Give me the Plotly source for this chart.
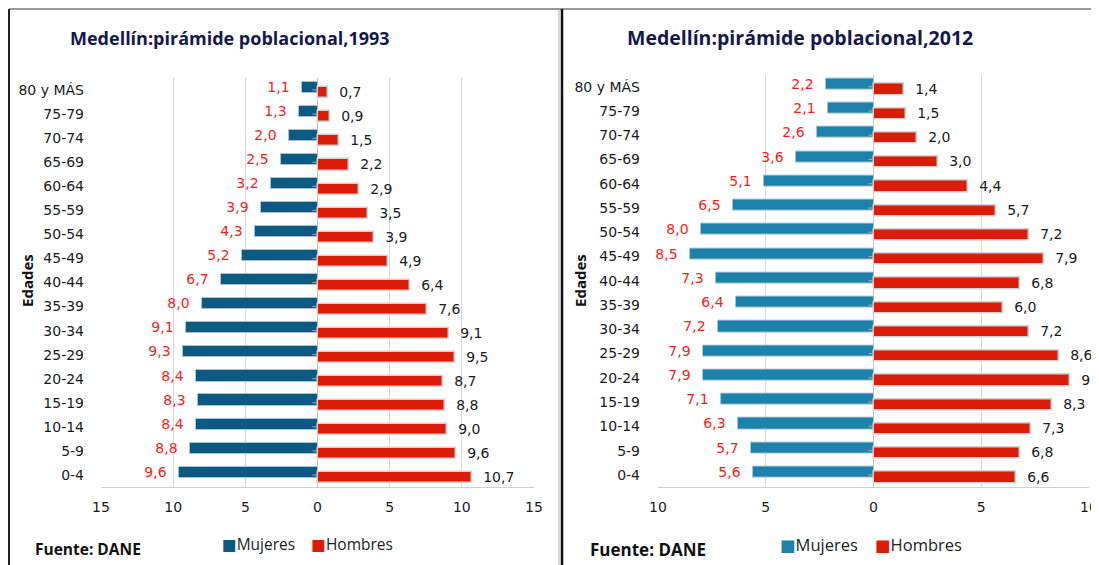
import plotly.graph_objects as go

# ---------------- data ----------------
age_groups = ["0-4", "5-9", "10-14", "15-19", "20-24", "25-29", "30-34", "35-39",
              "40-44", "45-49", "50-54", "55-59", "60-64", "65-69", "70-74", "75-79", "80 y MÁS"]
mujeres_1993 = [9.6, 8.8, 8.4, 8.3, 8.4, 9.3, 9.1, 8.0, 6.7, 5.2, 4.3, 3.9, 3.2, 2.5, 2.0, 1.3, 1.1]
hombres_1993 = [10.7, 9.6, 9.0, 8.8, 8.7, 9.5, 9.1, 7.6, 6.4, 4.9, 3.9, 3.5, 2.9, 2.2, 1.5, 0.9, 0.7]
mujeres_2012 = [5.6, 5.7, 6.3, 7.1, 7.9, 7.9, 7.2, 6.4, 7.3, 8.5, 8.0, 6.5, 5.1, 3.6, 2.6, 2.1, 2.2]
hombres_2012 = [6.6, 6.8, 7.3, 8.3, 9.1, 8.6, 7.2, 6.0, 6.8, 7.9, 7.2, 5.7, 4.4, 3.0, 2.0, 1.5, 1.4]
titles = ["Medellín:pirámide poblacional,1993", "Medellín:pirámide poblacional,2012"]
x_ticks_1993 = [-15, -10, -5, 0, 5, 10, 15]
x_ticks_2012 = [-10, -5, 0, 5, 10]
series_names = ["Mujeres", "Hombres"]

# ---------------- layout constants ----------------
OFF = 8                      # page body margin of the html page
W, H = 1099 - OFF, 565 - OFF
NB = "\u00a0"
FONT_NUM = "DejaVu Sans"
FONT_TXT = "Open Sans"
BLUE_1993 = "#0c5a84"
BLUE_2012 = "#1d82ab"
RED = "#dc1c06"
BAR_W = 0.46


def px_x(p):
    return (p - OFF) / W


def px_y(p):
    return 1 - (p - OFF) / H


def fmt(v):
    return f"{v:.1f}".replace(".", ",")


fig = go.Figure()

panels = [
    dict(mu=mujeres_1993, ho=hombres_1993, xa="x", ya="y", ticks=x_ticks_1993,
         dom_x=(101, 534), dom_y=(78, 487), blue=BLUE_1993,
         title_x=68, title_size=18, edades_x=27, fuente_x=33, fuente_size=15.5,
         legend_x=307, legend_size=15.5, ystand=16),
    dict(mu=mujeres_2012, ho=hombres_2012, xa="x2", ya="y2", ticks=x_ticks_2012,
         dom_x=(658, 1089), dom_y=(74.6, 487), blue=BLUE_2012,
         title_x=625, title_size=19.5, edades_x=580, fuente_x=588, fuente_size=17,
         legend_x=871, legend_size=16.5, ystand=17),
]

idx = list(range(len(age_groups)))

for i, p in enumerate(panels):
    fig.add_trace(go.Bar(
        y=idx, x=[-v for v in p["mu"]], orientation="h", name=series_names[0],
        width=BAR_W, offset=-0.115,
        marker=dict(color=p["blue"], line=dict(color="#a9c3d3", width=1)),
        text=[fmt(v) + NB * 2 for v in p["mu"]], textposition="outside",
        constraintext="none", cliponaxis=False,
        textfont=dict(family=FONT_NUM, size=14, color="#ff1a1a"),
        xaxis=p["xa"], yaxis=p["ya"], showlegend=False, hoverinfo="skip",
    ))
    fig.add_trace(go.Bar(
        y=idx, x=p["ho"], orientation="h", name=series_names[1],
        width=BAR_W, offset=-0.345,
        marker=dict(color=RED, line=dict(color="#d2d2d2", width=1.5)),
        text=[NB * 2 + fmt(v) for v in p["ho"]], textposition="outside",
        constraintext="none", cliponaxis=False,
        textfont=dict(family=FONT_NUM, size=14, color="#1a1a1a"),
        xaxis=p["xa"], yaxis=p["ya"], showlegend=False, hoverinfo="skip",
    ))

    rng = max(p["ticks"])
    xkey = "xaxis" if i == 0 else "xaxis2"
    ykey = "yaxis" if i == 0 else "yaxis2"
    fig.layout[xkey] = dict(
        domain=[px_x(p["dom_x"][0]), px_x(p["dom_x"][1])],
        range=[-rng, rng], tickvals=p["ticks"], ticktext=[str(abs(t)) for t in p["ticks"]],
        showgrid=True, gridcolor="#d9d9d9", gridwidth=1,
        zeroline=True, zerolinecolor="#c8c8c8", zerolinewidth=1,
        showline=True, linecolor="#d0d0d0", linewidth=1,
        ticks="", ticklabelstandoff=7, automargin=False,
        tickfont=dict(family=FONT_NUM, size=14, color="#1a1a1a"),
        anchor="y" if i == 0 else "y2", fixedrange=True,
    )
    fig.layout[ykey] = dict(
        domain=[px_y(p["dom_y"][1]), px_y(p["dom_y"][0])],
        range=[-0.5, len(age_groups) - 0.5], tickvals=idx, ticktext=age_groups,
        showgrid=False, zeroline=False, showline=False, ticks="",
        ticklabelstandoff=p["ystand"], automargin=False,
        tickfont=dict(family=FONT_NUM, size=14, color="#1a1a1a"),
        anchor="x" if i == 0 else "x2", fixedrange=True,
    )

    # small category tick marks on the central axis
    ppu = (p["dom_x"][1] - p["dom_x"][0]) / (2 * rng)
    for k in idx:
        fig.add_shape(type="line", xref=p["xa"], yref=p["ya"],
                      x0=-5 / ppu, x1=0, y0=k, y1=k,
                      line=dict(color="#b0b0b0", width=1), layer="above")

    # titles / annotations
    fig.add_annotation(text=f"<b>{titles[i]}</b>", xref="paper", yref="paper",
                       x=px_x(p["title_x"]), y=px_y(38),
                       xanchor="left", yanchor="middle", showarrow=False,
                       font=dict(family=FONT_TXT, size=p["title_size"], color="#15184d"))
    fig.add_annotation(text="<b>Edades</b>", xref="paper", yref="paper",
                       x=px_x(p["edades_x"]), y=px_y(281), textangle=-90,
                       xanchor="center", yanchor="middle", showarrow=False,
                       font=dict(family=FONT_TXT, size=15, color="#111111"))
    fig.add_annotation(text="<b>Fuente: DANE</b>", xref="paper", yref="paper",
                       x=px_x(p["fuente_x"]), y=px_y(549),
                       xanchor="left", yanchor="middle", showarrow=False,
                       font=dict(family=FONT_TXT, size=p["fuente_size"], color="#111111"))
    # legend
    legend_text = (f"<span style='font-family:DejaVu Sans;color:{p['blue']}'>■</span>{series_names[0]}"
                   f"{NB * 4}<span style='font-family:DejaVu Sans;color:{RED}'>■</span>{series_names[1]}")
    fig.add_annotation(text=legend_text, xref="paper", yref="paper",
                       x=px_x(p["legend_x"]), y=px_y(544),
                       xanchor="center", yanchor="middle", showarrow=False,
                       font=dict(family=FONT_TXT, size=p["legend_size"], color="#222222"))

# frame lines
fig.add_shape(type="line", xref="paper", yref="paper", x0=px_x(9), x1=1, y0=px_y(9), y1=px_y(9),
              line=dict(color="#9a9a9a", width=2))
fig.add_shape(type="line", xref="paper", yref="paper", x0=px_x(9), x1=px_x(9), y0=0, y1=px_y(9),
              line=dict(color="#222222", width=2))
fig.add_shape(type="line", xref="paper", yref="paper", x0=px_x(559), x1=px_x(559), y0=0, y1=px_y(9),
              line=dict(color="#b0b0b0", width=1))
fig.add_shape(type="line", xref="paper", yref="paper", x0=px_x(562), x1=px_x(562), y0=0, y1=px_y(9),
              line=dict(color="#111111", width=2.5))

fig.update_layout(
    width=W, height=H, margin=dict(l=0, r=0, t=0, b=0, autoexpand=False),
    paper_bgcolor="white", plot_bgcolor="white",
    barmode="overlay", bargap=0,
    showlegend=False,
)

fig.write_html("out.html")
